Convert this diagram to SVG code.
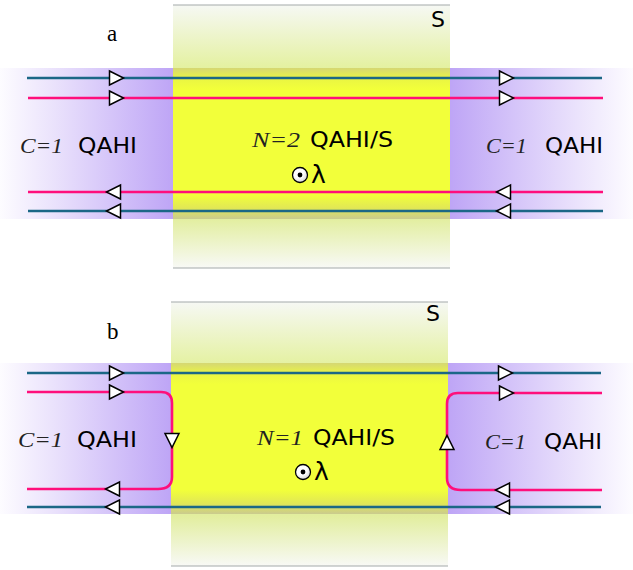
<svg xmlns="http://www.w3.org/2000/svg" xmlns:xlink="http://www.w3.org/1999/xlink" width="633" height="570" viewBox="0 0 633 570">
<style>
.blue{fill:none;stroke:#1b6786;stroke-width:2.6}
.pink{fill:none;stroke:#ff0f7b;stroke-width:2.6}
.arr{fill:#ffffff;stroke:#000000;stroke-width:1.5;stroke-linejoin:miter}
.sans{font-family:"DejaVu Sans","Liberation Sans",sans-serif;font-size:21px;fill:#000}
.ital{font-family:"Liberation Serif","DejaVu Serif",serif;font-style:italic;font-size:21px;fill:#222}
.ser{font-family:"Liberation Serif","DejaVu Serif",serif;font-size:23px;fill:#000}
.edge{stroke:#a3a9a9;stroke-width:1.2}
</style>
<defs>
<linearGradient id="purL" x1="0" y1="0" x2="1" y2="0">
<stop offset="0" stop-color="#fdfcff"/>
<stop offset="0.3" stop-color="#ebe3fc"/>
<stop offset="1" stop-color="#bea5f6"/>
</linearGradient>
<linearGradient id="purR" x1="0" y1="0" x2="1" y2="0">
<stop offset="0" stop-color="#bea5f6"/>
<stop offset="0.7" stop-color="#ebe3fc"/>
<stop offset="1" stop-color="#fdfcff"/>
</linearGradient>
<linearGradient id="sGrad" x1="0" y1="0" x2="0" y2="1">
<stop offset="0" stop-color="#f6f8f4"/>
<stop offset="0.24" stop-color="#e4f1a0"/>
<stop offset="0.81" stop-color="#e2ee9e"/>
<stop offset="1" stop-color="#f8f9f6"/>
</linearGradient>
<linearGradient id="bandS" x1="0" y1="0" x2="0" y2="1">
<stop offset="0" stop-color="#d5d774"/>
<stop offset="0.07" stop-color="#eaf543"/>
<stop offset="0.14" stop-color="#f2ff3a"/>
<stop offset="0.84" stop-color="#f2ff3a"/>
<stop offset="0.93" stop-color="#e1e756"/>
<stop offset="1" stop-color="#cacb8f"/>
</linearGradient>
<radialGradient id="dotG" cx="0.4" cy="0.35" r="0.7">
<stop offset="0.5" stop-color="#ffffff"/>
<stop offset="1" stop-color="#cfcfcf"/>
</radialGradient>
<path id="tri" d="M-6.5,-7 L7.5,0 L-6.5,7 Z"/>
</defs>

<!-- Panel a -->
<g id="a-left-qahi">
<rect x="0" y="68" width="173" height="151" fill="url(#purL)"/>
</g>
<g id="a-right-qahi">
<rect x="450" y="68" width="183" height="151" fill="url(#purR)"/>
</g>
<g id="a-superconductor">
<rect x="173" y="5" width="277" height="263" fill="url(#sGrad)"/>
<rect x="173" y="68" width="277" height="151" fill="url(#bandS)"/>
<line class="edge" x1="173" y1="5" x2="450" y2="5"/>
<line class="edge" x1="173" y1="268" x2="450" y2="268"/>
</g>

<g id="a-connectors">
<line class="blue" x1="27" y1="78" x2="602" y2="78"/>
<line class="pink" x1="28" y1="98" x2="603" y2="98"/>
<line class="pink" x1="28" y1="192" x2="603" y2="192"/>
<line class="blue" x1="28" y1="211" x2="603" y2="211"/>
<use xlink:href="#tri" class="arr" transform="translate(116,78)"/>
<use xlink:href="#tri" class="arr" transform="translate(116,98)"/>
<use xlink:href="#tri" class="arr" transform="translate(506,78)"/>
<use xlink:href="#tri" class="arr" transform="translate(506,98)"/>
<use xlink:href="#tri" class="arr" transform="translate(114,192) rotate(180)"/>
<use xlink:href="#tri" class="arr" transform="translate(114,211) rotate(180)"/>
<use xlink:href="#tri" class="arr" transform="translate(504,192) rotate(180)"/>
<use xlink:href="#tri" class="arr" transform="translate(504,211) rotate(180)"/>
</g>

<g id="a-labels">
<text class="ser" x="107" y="41">a</text>
<text class="sans" x="431" y="27" textLength="14" lengthAdjust="spacingAndGlyphs">S</text>
<text class="ital" x="20" y="153" textLength="43" lengthAdjust="spacingAndGlyphs">C=1</text>
<text class="sans" x="78" y="153" textLength="59" lengthAdjust="spacingAndGlyphs">QAHI</text>
<text class="ital" x="486" y="153" textLength="41" lengthAdjust="spacingAndGlyphs">C=1</text>
<text class="sans" x="545" y="153" textLength="58" lengthAdjust="spacingAndGlyphs">QAHI</text>
<text class="ital" x="252" y="147" textLength="48" lengthAdjust="spacingAndGlyphs">N=2</text>
<text class="sans" x="310" y="147" textLength="83" lengthAdjust="spacingAndGlyphs">QAHI/S</text>
<circle cx="300" cy="175" r="7.5" fill="url(#dotG)" stroke="#000" stroke-width="1.3"/>
<circle cx="300" cy="175" r="2.4" fill="#000"/>
<text class="sans" x="311" y="183" style="font-size:25px">λ</text>
</g>

<!-- Panel b -->
<g id="b-left-qahi">
<rect x="0" y="363" width="171" height="151" fill="url(#purL)"/>
</g>
<g id="b-right-qahi">
<rect x="448" y="363" width="185" height="151" fill="url(#purR)"/>
</g>
<g id="b-superconductor">
<rect x="171" y="302" width="277" height="264" fill="url(#sGrad)"/>
<rect x="171" y="363" width="277" height="151" fill="url(#bandS)"/>
<line class="edge" x1="171" y1="302" x2="448" y2="302"/>
<line class="edge" x1="171" y1="566" x2="448" y2="566"/>
</g>

<g id="b-connectors">
<line class="blue" x1="27" y1="373" x2="601" y2="373"/>
<line class="blue" x1="27" y1="507" x2="601" y2="507"/>
<path class="pink" d="M27,392 H161 Q172,392 172,403 V477 Q172,489 158,489 H27"/>
<path class="pink" d="M602,393 H458 Q447,393 447,404 V478 Q447,490 461,490 H602"/>
<use xlink:href="#tri" class="arr" transform="translate(116,373)"/>
<use xlink:href="#tri" class="arr" transform="translate(116,392)"/>
<use xlink:href="#tri" class="arr" transform="translate(113,489) rotate(180)"/>
<use xlink:href="#tri" class="arr" transform="translate(113,507) rotate(180)"/>
<use xlink:href="#tri" class="arr" transform="translate(505,373)"/>
<use xlink:href="#tri" class="arr" transform="translate(506,393)"/>
<use xlink:href="#tri" class="arr" transform="translate(503,490) rotate(180)"/>
<use xlink:href="#tri" class="arr" transform="translate(503,507) rotate(180)"/>
<use xlink:href="#tri" class="arr" transform="translate(172,440) rotate(90)"/>
<use xlink:href="#tri" class="arr" transform="translate(447,443) rotate(-90)"/>
</g>

<g id="b-labels">
<text class="ser" x="107" y="339">b</text>
<text class="sans" x="426" y="321" textLength="14" lengthAdjust="spacingAndGlyphs">S</text>
<text class="ital" x="18" y="447" textLength="45" lengthAdjust="spacingAndGlyphs">C=1</text>
<text class="sans" x="77" y="447" textLength="60" lengthAdjust="spacingAndGlyphs">QAHI</text>
<text class="ital" x="485" y="449" textLength="41" lengthAdjust="spacingAndGlyphs">C=1</text>
<text class="sans" x="544" y="449" textLength="58" lengthAdjust="spacingAndGlyphs">QAHI</text>
<text class="ital" x="257" y="445" textLength="46" lengthAdjust="spacingAndGlyphs">N=1</text>
<text class="sans" x="313" y="445" textLength="82" lengthAdjust="spacingAndGlyphs">QAHI/S</text>
<circle cx="303" cy="472" r="7.5" fill="url(#dotG)" stroke="#000" stroke-width="1.3"/>
<circle cx="303" cy="472" r="2.4" fill="#000"/>
<text class="sans" x="314" y="480" style="font-size:25px">λ</text>
</g>
</svg>
